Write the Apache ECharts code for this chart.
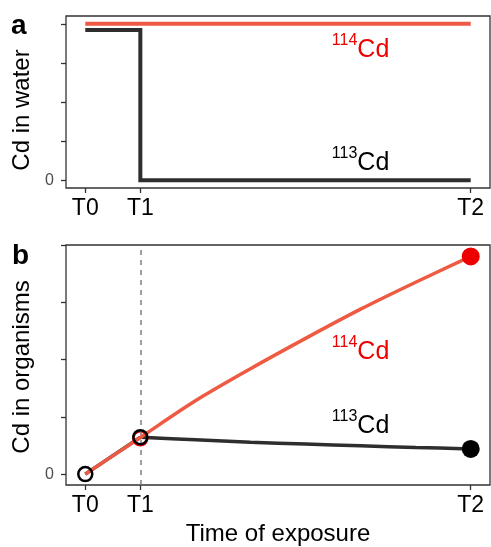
<!DOCTYPE html>
<html><head><meta charset="utf-8">
<script src="https://cdn.jsdelivr.net/npm/echarts@6/dist/echarts.min.js"></script>
<style>html,body{margin:0;padding:0;background:#fff}#c{width:491px;height:547px}</style>
</head><body><div id="c"></div>
<script>
// ---- data ----
const tickTimes = [0, 1, 7];
const tickLabels = ['T0', 'T1', 'T2'];
const yTicks = [0, 1, 2, 3, 4];
const yLabelTicks = [0];
// panel a: Cd in water
const waterTime114 = [0, 7];
const water114 = [4, 4];
const waterTime113 = [0, 1, 1, 7];
const water113 = [3.84, 3.84, 0, 0];
// panel b: Cd in organisms
const orgTime = [0, 1, 2, 3, 4, 5, 6, 7];
const org114 = [0, 0.64, 1.28, 1.84, 2.37, 2.88, 3.35, 3.80];
const org113 = [0, 0.645, 0.60, 0.555, 0.525, 0.495, 0.465, 0.44];
const openTime113 = [0, 1];
const openVal113 = [0, 0.645];
const openTime114 = [1];
const openVal114 = [0.625];
const isoNames = ['114', '113'];
const labelTime = 5;
const labelWater = [3.40, 0.51];
const labelOrg = [2.17, 0.88];

const RED_LINE = '#ef5a42', RED = '#ee0000', BLACK = '#2e2e2e';
const FONT = '"Liberation Sans", Arial, Helvetica, sans-serif';
const zip = (xs, ys) => xs.map((x, i) => [x, ys[i]]);

function xAxis(gi) {
  return {
    type: 'value', gridIndex: gi, min: -0.35, max: 7.35,
    splitLine: { show: false },
    axisLine: { show: false, onZero: false },
    axisTick: { show: true, customValues: tickTimes, length: 5, lineStyle: { color: '#333', width: 1.3 } },
    axisLabel: { customValues: tickTimes, formatter: v => tickLabels[tickTimes.indexOf(v)], fontSize: 23, color: '#000', margin: 9, fontFamily: FONT }
  };
}
function yAxis(gi, min, max, name, pad) {
  return {
    type: 'value', gridIndex: gi, min: min, max: max,
    splitLine: { show: false },
    axisLine: { show: false, onZero: false },
    axisTick: { show: true, customValues: yTicks, length: 5, lineStyle: { color: '#333', width: 1.3 } },
    axisLabel: { customValues: yLabelTicks, fontSize: 16, color: '#4d4d4d', margin: 12, fontFamily: FONT },
    name: name, nameLocation: 'middle', nameGap: 30,
    nameTextStyle: { fontSize: 24, color: '#000', fontFamily: FONT, padding: pad }
  };
}
function isoLabel(gi, y, name, color) {
  return {
    type: 'scatter', xAxisIndex: gi, yAxisIndex: gi, symbolSize: 2, z: 10, silent: true,
    itemStyle: { color: 'rgba(0,0,0,0)', opacity: 1 },
    data: [[labelTime, y]],
    label: {
      show: true, position: 'inside', opacity: 1, formatter: '{s|' + name + '}{c|Cd}',
      rich: {
        s: { fontSize: 16, color: color, verticalAlign: 'top', fontFamily: FONT, lineHeight: 20 },
        c: { fontSize: 25, color: color, fontFamily: FONT, lineHeight: 30, verticalAlign: 'bottom' }
      }
    }
  };
}

const chart = echarts.init(document.getElementById('c'));
const xa = xAxis(1);
xa.name = 'Time of exposure';
xa.nameLocation = 'middle';
xa.nameGap = 37;
xa.nameTextStyle = { fontSize: 24, color: '#000', fontFamily: FONT };

const black113 = zip(orgTime, org113);

chart.setOption({
  animation: false,
  textStyle: { fontFamily: FONT },
  grid: [
    { left: 66, top: 16, width: 424, height: 172, show: true, borderColor: '#333', borderWidth: 1.3 },
    { left: 66, top: 245, width: 424, height: 243, show: true, borderColor: '#333', borderWidth: 1.3 }
  ],
  xAxis: [xAxis(0), xa],
  yAxis: [yAxis(0, -0.2, 4.2, 'Cd in water', [0, 16, 0, 0]), yAxis(1, -0.19, 4.0, 'Cd in organisms', [0, 4, 0, 0])],
  graphic: [
    { type: 'text', left: 11, top: 12, style: { text: 'a', fontSize: 28, fontWeight: 'bold', fill: '#000', fontFamily: FONT } },
    { type: 'text', left: 12, top: 242, style: { text: 'b', fontSize: 28, fontWeight: 'bold', fill: '#000', fontFamily: FONT } }
  ],
  series: [
    { type: 'line', xAxisIndex: 0, yAxisIndex: 0, data: zip(waterTime114, water114), symbol: 'none',
      lineStyle: { color: RED_LINE, width: 4, cap: 'butt' } },
    { type: 'line', xAxisIndex: 0, yAxisIndex: 0, data: zip(waterTime113, water113), symbol: 'none',
      lineStyle: { color: BLACK, width: 4, cap: 'butt', join: 'miter' } },
    isoLabel(0, labelWater[0], isoNames[0], RED),
    isoLabel(0, labelWater[1], isoNames[1], '#000'),
    { type: 'line', xAxisIndex: 1, yAxisIndex: 1, data: black113.slice(0, 2), symbol: 'none', z: 2,
      lineStyle: { color: BLACK, width: 3.5 },
      markLine: { symbol: 'none', silent: true, label: { show: false },
        lineStyle: { color: '#808080', width: 1.5, type: [5, 5] }, data: [{ xAxis: tickTimes[1] }] } },
    { type: 'line', xAxisIndex: 1, yAxisIndex: 1, data: black113.slice(1), symbol: 'none', z: 2,
      smooth: 0.3,
      lineStyle: { color: BLACK, width: 3.5 } },
    { type: 'line', xAxisIndex: 1, yAxisIndex: 1, data: zip(orgTime, org114), symbol: 'none', z: 3,
      smooth: 0.3,
      lineStyle: { color: RED_LINE, width: 3.5 } },
    { type: 'scatter', xAxisIndex: 1, yAxisIndex: 1, data: zip(openTime114, openVal114), symbolSize: 14, z: 4,
      itemStyle: { color: 'rgba(0,0,0,0)', borderColor: RED, borderWidth: 2.5, opacity: 1 } },
    { type: 'scatter', xAxisIndex: 1, yAxisIndex: 1, data: zip(openTime113, openVal113), symbolSize: 14, z: 5,
      itemStyle: { color: 'rgba(0,0,0,0)', borderColor: '#000', borderWidth: 2.5, opacity: 1 } },
    { type: 'scatter', xAxisIndex: 1, yAxisIndex: 1, data: [[orgTime[7], org114[7]]], symbolSize: 18, z: 5,
      itemStyle: { color: RED, opacity: 1 } },
    { type: 'scatter', xAxisIndex: 1, yAxisIndex: 1, data: [[orgTime[7], org113[7]]], symbolSize: 18, z: 5,
      itemStyle: { color: '#000', opacity: 1 } },
    isoLabel(1, labelOrg[0], isoNames[0], RED),
    isoLabel(1, labelOrg[1], isoNames[1], '#000')
  ]
});
</script></body></html>
